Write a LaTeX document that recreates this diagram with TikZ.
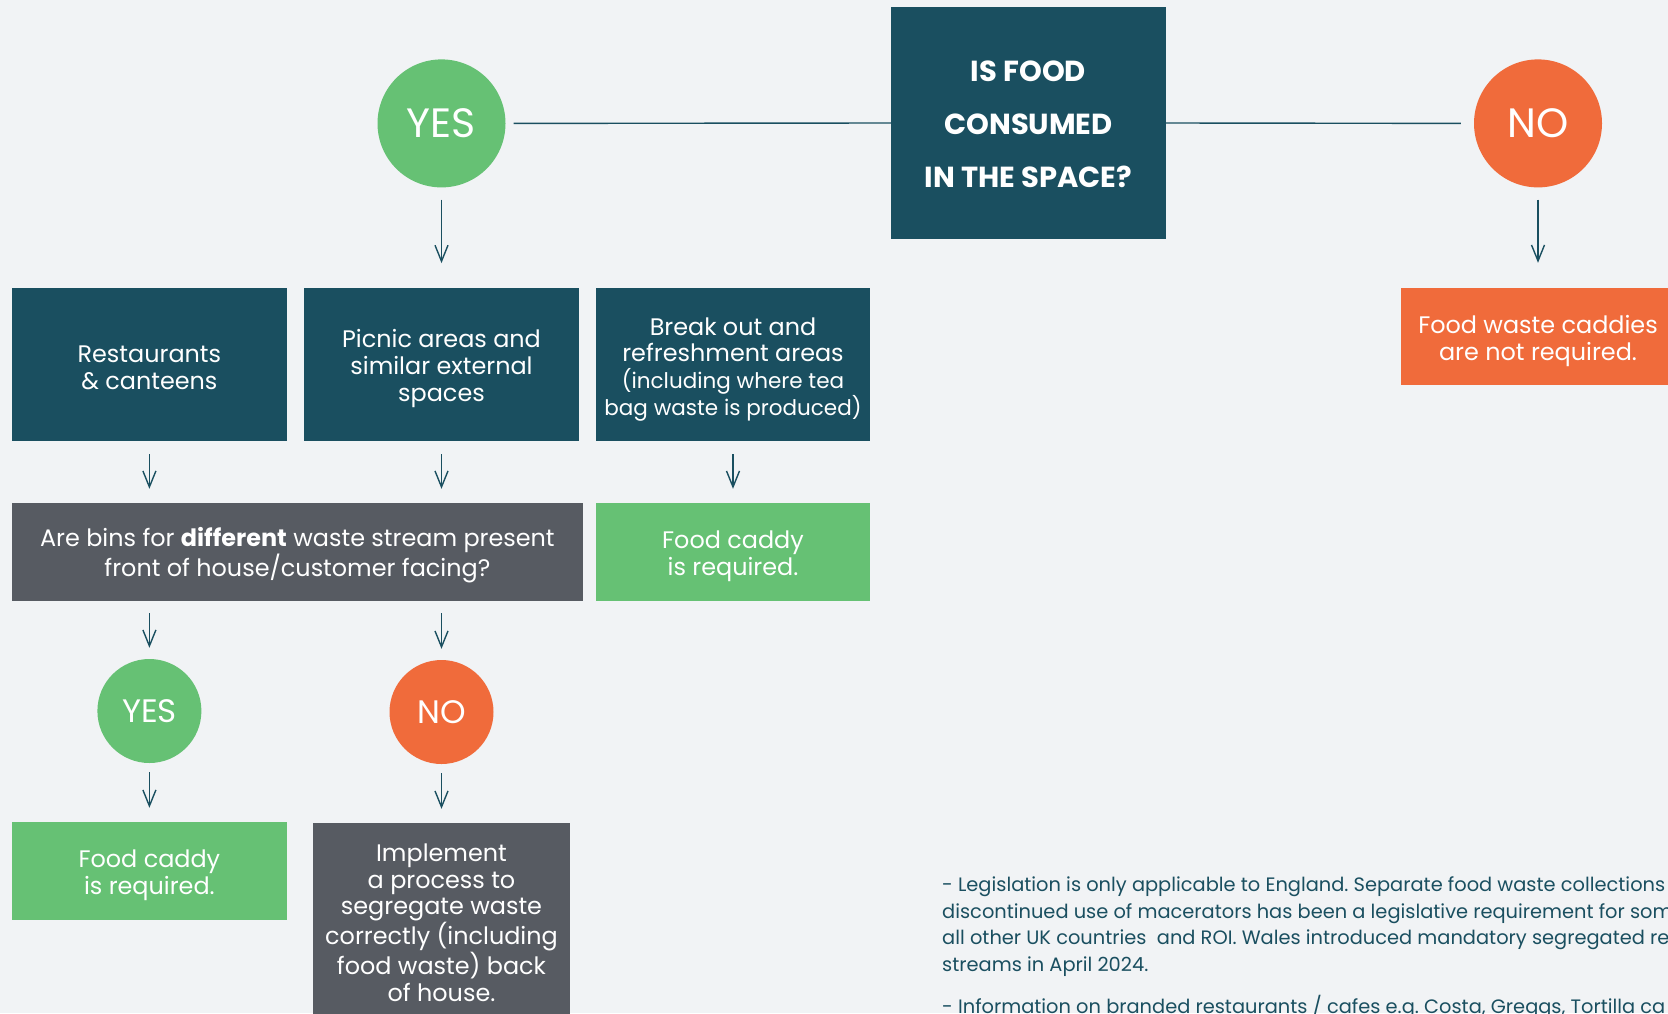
\documentclass[tikz,border=0pt]{standalone}
\usepackage{fontspec}
\setmainfont{Poppins}
\usetikzlibrary{arrows.meta}
\frenchspacing
\definecolor{bg}{HTML}{F1F3F5}
\definecolor{tealc}{HTML}{1A4F60}
\definecolor{grn}{HTML}{66C174}
\definecolor{org}{HTML}{F06B3B}
\definecolor{gry}{HTML}{575B62}
\tikzset{
  box/.style={rectangle, inner sep=0pt},
  tealbox/.style={box, fill=tealc},
  grnbox/.style={box, fill=grn},
  orgbox/.style={box, fill=org},
  grybox/.style={box, fill=gry},
  boxtxt/.style={inner sep=0pt, text=white, align=center, font=\fontsize{23.9}{26.8}\selectfont},
  bigcirc/.style={circle, inner sep=0pt, minimum size=128pt, text=white, font=\fontsize{41}{44}\selectfont},
  smallcirc/.style={circle, inner sep=0pt, minimum size=104pt, text=white, font=\fontsize{32.5}{36}\selectfont},
  conn/.style={draw=tealc, line width=1.4pt},
  arr/.style={conn, -{Straight Barb[length=16pt,width=13pt]}},
  note/.style={anchor=west, inner sep=0pt, text=tealc, font=\fontsize{19.4}{22}\selectfont},
}
\begin{document}
\begin{tikzpicture}[x=1pt,y=-1pt]
\fill[bg] (0,0) rectangle (1668,1013);
\useasboundingbox (0,0) rectangle (1668,1013);
\clip (0,0) rectangle (1668,1013);

% top row
\node[tealbox, minimum width=275pt, minimum height=232pt] (q) at (1028.5,123) {};
\node[boxtxt, font=\bfseries\fontsize{29}{53}\selectfont] (qt) at ([yshift=-1.5pt]q.center) {IS FOOD\\CONSUMED\\IN THE SPACE?};
\node[bigcirc, fill=grn] (yes) at (441.5,123.4) {YES};
\node[bigcirc, fill=org] (no) at (1538,123.4) {NO};
\draw[conn, shorten >=8pt] (q.west) -- (yes.east);
\draw[conn, shorten >=13pt] (q.east) -- (no.west);

% row 1 boxes
\node[tealbox, minimum width=275.5pt, minimum height=153pt] (b1) at (149.4,364.8) {};
\node[boxtxt] (b1t) at ([yshift=-3pt]b1.center) {Restaurants\\\& canteens};
\node[tealbox, minimum width=275pt, minimum height=153pt] (b2) at (441.5,364.8) {};
\node[boxtxt] (b2t) at ([yshift=-4pt]b2.center) {Picnic areas and\\similar external\\spaces};
\node[tealbox, minimum width=274pt, minimum height=153pt] (b3) at (733,364.8) {};
\node[boxtxt] (b3t) at ([yshift=-4.5pt]b3.center) {Break out and\\refreshment areas\\{\fontsize{21.5}{26.8}\selectfont (including where tea}\\{\fontsize{21.5}{26.8}\selectfont bag waste is produced)}};
\node[orgbox, minimum width=274pt, minimum height=97pt] (b4) at (1538,336.5) {};
\node[boxtxt] (b4t) at ([yshift=-4.5pt]b4.center) {Food waste caddies\\are not required.};

\draw[arr, shorten <=12pt, shorten >=25pt] (yes) -- (b2);
\draw[arr, shorten <=12pt, shorten >=25pt] (no) -- (b4);

% row 2
\node[grybox, minimum width=571pt, minimum height=98pt] (g) at (297.4,552) {};
\node[boxtxt] (gt) at ([yshift=-3.5pt]g.center) {Are bins for \textbf{different} waste stream present\\front of house/customer facing?};
\node[grnbox, minimum width=274pt, minimum height=98pt] (c1) at (733,552) {};
\node[boxtxt] (c1t) at ([yshift=-4pt]c1.center) {Food caddy\\is required.};

\draw[arr, shorten <=12.5pt, shorten >=14pt] (b1.south) -- (b1.south |- g.north);
\draw[arr, shorten <=12.5pt, shorten >=14pt] (b2.south) -- (b2.south |- g.north);
\draw[arr, shorten <=12.5pt, shorten >=14pt] (b3.south) -- (c1.north);

% row 3
\node[smallcirc, fill=grn] (y2) at (149.4,711) {YES};
\node[smallcirc, fill=org] (n2) at (441.5,712) {NO};
\draw[arr, shorten <=12pt, shorten >=11pt] (g.south -| y2) -- (y2.north);
\draw[arr, shorten <=12pt, shorten >=11pt] (g.south -| n2) -- (n2.north);

% row 4
\node[grnbox, minimum width=275.5pt, minimum height=98pt] (c2) at (149.4,871) {};
\node[boxtxt] (c2t) at ([yshift=-4pt]c2.center) {Food caddy\\is required.};
\node[grybox, minimum width=257pt, minimum height=195pt] (p) at (441.5,920.5) {};
\node[boxtxt] (pt) at ([yshift=-2pt]p.center) {Implement\\a process to\\segregate waste\\correctly (including\\food waste) back\\of house.};
\draw[arr, shorten <=9pt, shorten >=14pt] (y2.south) -- (c2.north);
\draw[arr, shorten <=9pt, shorten >=14pt] (n2.south) -- (p.north);

% notes
\node[note] (n1) at (942,887) {- Legislation is only applicable to England. Separate food waste collections};
\node[note] (n2l) at (942,913.5) {discontinued use of macerators has been a legislative requirement for some};
\node[note] (n3) at (942,940) {all other UK countries\ \ and ROI. Wales introduced mandatory segregated re};
\node[note] (n4) at (942,966.5) {streams in April 2024.};
\node[note] (n5) at (942,1007) {- Information on branded restaurants / cafes e.g. Costa, Greggs, Tortilla ca};
\end{tikzpicture}
\end{document}
